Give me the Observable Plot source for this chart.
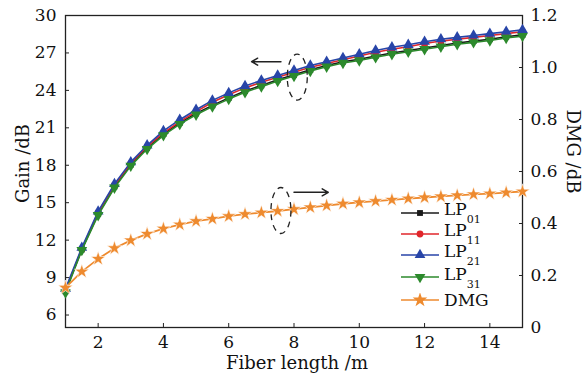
<!DOCTYPE html>
<html><head><meta charset="utf-8">
<script src="https://cdn.jsdelivr.net/npm/d3@7"></script>
<script src="https://cdn.jsdelivr.net/npm/@observablehq/plot@0.6"></script>
<style>
body{margin:0;background:#fff;font-family:"DejaVu Serif","Liberation Serif",serif;}
#wrap{position:relative;width:587px;height:376px;}
#legend{position:absolute;left:400px;top:202px;font-size:17px;color:#111;}
.row{display:flex;align-items:center;height:21px;}
.row svg{margin-right:4px;}
.row sub{font-size:11px;vertical-align:-8px;}
</style></head><body><div id="wrap"><div id="legend"></div></div>
<script>
// ---- data ----
const fiberLength = [1,1.5,2,2.5,3,3.5,4,4.5,5,5.5,6,6.5,7,7.5,8,8.5,9,9.5,10,10.5,11,11.5,12,12.5,13,13.5,14,14.5,15];
const gainLP01 = [7.9,11.25,14.1,16.3,18.05,19.4,20.5,21.4,22.15,22.8,23.4,23.95,24.4,24.85,25.25,25.65,26.0,26.3,26.5,26.75,27.0,27.2,27.4,27.6,27.8,27.95,28.1,28.3,28.45];
const gainLP11 = [8.0,11.3,14.2,16.4,18.15,19.5,20.6,21.5,22.3,23.05,23.65,24.2,24.65,25.05,25.45,25.85,26.15,26.45,26.75,27.05,27.3,27.5,27.75,27.95,28.1,28.25,28.4,28.55,28.7];
const gainLP21 = [8.1,11.4,14.3,16.5,18.25,19.6,20.75,21.65,22.45,23.2,23.8,24.35,24.8,25.2,25.6,26.0,26.3,26.6,26.9,27.2,27.45,27.65,27.9,28.1,28.25,28.4,28.55,28.7,28.85];
const gainLP31 = [7.8,11.2,14.0,16.2,17.95,19.3,20.4,21.3,22.05,22.7,23.3,23.85,24.3,24.75,25.15,25.55,25.9,26.2,26.4,26.65,26.9,27.1,27.3,27.5,27.7,27.85,28.0,28.2,28.35];
const dmgValues = [0.153,0.215,0.264,0.305,0.335,0.360,0.380,0.396,0.409,0.418,0.428,0.436,0.442,0.448,0.455,0.462,0.469,0.476,0.481,0.486,0.491,0.496,0.500,0.504,0.508,0.512,0.515,0.519,0.523];
const seriesNames = ["LP01","LP11","LP21","LP31"];
const lengthTicks = [2,4,6,8,10,12,14];
const gainTicks = [6,9,12,15,18,21,24,27,30];
const dmgTicks = [0,0.2,0.4,0.6,0.8,1.0,1.2];
// annotations (data units)
const gainNote = {x: 8.1, gain: 25.06, arrowFrom: 7.6, arrowTo: 6.7, arrowGain: 26.3};
const dmgNote = {x: 7.6, dmg: 0.45, arrowFrom: 8.0, arrowTo: 9.05, arrowDmg: 0.52};

// ---- styles ----
const FONT = '"DejaVu Serif","Liberation Serif",serif';
const gainDomain = [5, 30], dmgDomain = [0, 1.2];
const toGain = d => gainDomain[0] + (d - dmgDomain[0]) / (dmgDomain[1] - dmgDomain[0]) * (gainDomain[1] - gainDomain[0]);
const fromGain = g => dmgDomain[0] + (g - gainDomain[0]) / (gainDomain[1] - gainDomain[0]) * (dmgDomain[1] - dmgDomain[0]);

const triangleDown = {draw(ctx, size){ const y = -Math.sqrt(size / (Math.sqrt(3) * 3)); ctx.moveTo(0, -y*2); ctx.lineTo(Math.sqrt(3)*y, y); ctx.lineTo(-Math.sqrt(3)*y, y); ctx.closePath(); }};
const ellipseSym = {draw(ctx){ const rx = 10, ry = 23, k = 0.5523;
  ctx.moveTo(rx, 0);
  ctx.bezierCurveTo(rx, ry*k, rx*k, ry, 0, ry);
  ctx.bezierCurveTo(-rx*k, ry, -rx, ry*k, -rx, 0);
  ctx.bezierCurveTo(-rx, -ry*k, -rx*k, -ry, 0, -ry);
  ctx.bezierCurveTo(rx*k, -ry, rx, -ry*k, rx, 0); }};

const seriesStyle = [
  {color: "#1a1a1a", symbol: "square", r: 3.3},
  {color: "#e0262b", symbol: "circle", r: 3.4},
  {color: "#2845a8", symbol: "triangle", r: 4},
  {color: "#2c8a2c", symbol: triangleDown, r: 4}
];
const gainSeries = [gainLP01, gainLP11, gainLP21, gainLP31];
const orange = "#ee8a2e";

const marks = [Plot.frame({stroke: "#222", strokeWidth: 1.3})];
gainSeries.forEach((vals, k) => {
  const rows = fiberLength.map((x, i) => ({x, y: vals[i]}));
  const st = seriesStyle[k];
  marks.push(Plot.line(rows, {x: "x", y: "y", stroke: st.color, strokeWidth: 1.6}));
  marks.push(Plot.dot(rows, {x: "x", y: "y", symbol: st.symbol, r: st.r, fill: st.color, stroke: "none"}));
});
const dmgRows = fiberLength.map((x, i) => ({x, y: toGain(dmgValues[i])}));
marks.push(Plot.line(dmgRows, {x: "x", y: "y", stroke: orange, strokeWidth: 1.8}));
marks.push(Plot.dot(dmgRows, {x: "x", y: "y", symbol: "star", r: 4.6, fill: orange, stroke: "white", strokeWidth: 0.6}));

// annotations
marks.push(Plot.dot([gainNote], {x: "x", y: "gain", symbol: ellipseSym, stroke: "#222", strokeWidth: 1.3, strokeDasharray: "6,5", fill: "none"}));
marks.push(Plot.arrow([gainNote], {x1: "arrowFrom", x2: "arrowTo", y1: "arrowGain", y2: "arrowGain", stroke: "#222", strokeWidth: 1.5, headLength: 7}));
marks.push(Plot.dot([dmgNote], {x: "x", y: d => toGain(d.dmg), symbol: ellipseSym, stroke: "#222", strokeWidth: 1.3, strokeDasharray: "6,5", fill: "none"}));
marks.push(Plot.arrow([dmgNote], {x1: "arrowFrom", x2: "arrowTo", y1: d => toGain(d.arrowDmg), y2: d => toGain(d.arrowDmg), stroke: "#222", strokeWidth: 1.5, headLength: 7}));

// axes
marks.push(Plot.axisX({ticks: lengthTicks, tickSize: -4, tickPadding: 12, label: null, stroke: "#222", fill: "#111", fontSize: 17}));
marks.push(Plot.axisY({ticks: gainTicks, anchor: "left", tickSize: -4, tickPadding: 13, label: null, stroke: "#222", fill: "#111", fontSize: 17}));
marks.push(Plot.axisY({ticks: dmgTicks.map(toGain), anchor: "right", tickSize: -4, tickPadding: 12, label: null, stroke: "#222", fill: "#111", fontSize: 17,
  tickFormat: g => { const d = Math.round(fromGain(g) * 10) / 10; return d === 0 ? "0" : d.toFixed(1); }}));
marks.push(Plot.text(["Fiber length /m"], {frameAnchor: "bottom", lineAnchor: "middle", textAnchor: "middle", dy: 36, dx: 3, fontSize: 18, fill: "#111"}));
marks.push(Plot.text(["Gain /dB"], {frameAnchor: "left", lineAnchor: "middle", textAnchor: "middle", dx: -42, dy: -8, rotate: -90, fontSize: 18, fill: "#111"}));
marks.push(Plot.text(["DMG /dB"], {frameAnchor: "right", lineAnchor: "middle", textAnchor: "middle", dx: 50, dy: -20, rotate: 90, fontSize: 18, fill: "#111"}));

const chart = Plot.plot({
  width: 587, height: 376,
  marginLeft: 65, marginRight: 65, marginTop: 15, marginBottom: 49,
  x: {domain: [1, 15]},
  y: {domain: gainDomain},
  style: {fontFamily: FONT, fontSize: "17px", background: "white", color: "#111"},
  marks
});
document.getElementById("wrap").prepend(chart);

// legend
const legend = d3.select("#legend");
const legendItems = seriesNames.map((n, k) => ({name: n, color: seriesStyle[k].color, symbol: seriesStyle[k].symbol, r: seriesStyle[k].r}));
legendItems.push({name: "DMG", color: orange, symbol: "star", r: 4.6});
const symMap = {square: d3.symbolSquare, circle: d3.symbolCircle, triangle: d3.symbolTriangle, star: d3.symbolStar};
legendItems.forEach((it, k) => {
  const row = legend.append("div").attr("class", "row").style("height", k === 3 ? "24px" : "21px");
  const svg = row.append("svg").attr("width", 40).attr("height", 14);
  svg.append("line").attr("x1", 1).attr("x2", 39).attr("y1", 7).attr("y2", 7).attr("stroke", it.color).attr("stroke-width", 1.6);
  const type = typeof it.symbol === "string" ? symMap[it.symbol] : it.symbol;
  svg.append("path").attr("transform", "translate(20,7)").attr("d", d3.symbol(type, Math.PI * it.r * it.r)()).attr("fill", it.color);
  const label = row.append("span");
  if (it.name.startsWith("LP")) { label.text("LP"); label.append("sub").text(it.name.slice(2)); }
  else label.text(it.name);
});
</script></body></html>
